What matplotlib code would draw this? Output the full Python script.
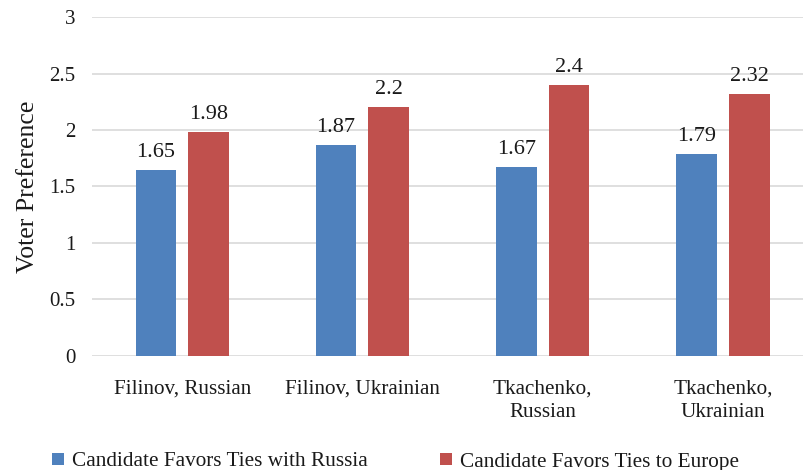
import matplotlib
matplotlib.use("Agg")
import matplotlib.pyplot as plt
import numpy as np

categories = ["Filinov, Russian", "Filinov, Ukrainian", "Tkachenko,\nRussian", "Tkachenko,\nUkrainian"]
russia = [1.65, 1.87, 1.67, 1.79]
europe = [1.98, 2.2, 2.4, 2.32]
series_names = ["Candidate Favors Ties with Russia", "Candidate Favors Ties to Europe"]
yticks = [0, 0.5, 1, 1.5, 2, 2.5, 3]
ytick_labels = ["0", "0.5", "1", "1.5", "2", "2.5", "3"]

plt.rcParams['font.family'] = ['Liberation Serif', 'DejaVu Serif']

fig = plt.figure(figsize=(8.04, 4.70), dpi=100)
ax = fig.add_axes([0.1144, 0.2426, 0.897, 0.7212])

x = np.arange(len(categories))
w = 0.225
off = 0.146
b1 = ax.bar(x - off, russia, w, color="#4F81BD", label=series_names[0], zorder=3)
b2 = ax.bar(x + off, europe, w, color="#C0504D", label=series_names[1], zorder=3)

for rect, v in zip(b1, russia):
    ax.text(rect.get_x() + rect.get_width() / 2, v + 0.07, f"{v:g}", ha="center", va="bottom", fontsize=16, color="#1a1a1a")
for rect, v in zip(b2, europe):
    ax.text(rect.get_x() + rect.get_width() / 2, v + 0.07, f"{v:g}", ha="center", va="bottom", fontsize=16, color="#1a1a1a")

ax.set_xlim(-0.5, 3.5)
ax.set_ylim(0, 3)
ax.set_yticks(yticks)
ax.set_yticklabels(ytick_labels, fontsize=15, color="#1a1a1a")
ax.set_xticks(x)
ax.set_xticklabels(categories, fontsize=15.2, color="#1a1a1a", linespacing=1.35)
ax.tick_params(axis='both', length=0)
ax.tick_params(axis='y', pad=12)
ax.tick_params(axis='x', pad=17)
ax.yaxis.grid(True, color="#d9d9d9", linewidth=1.2, zorder=0)
for s in ax.spines.values():
    s.set_visible(False)
ax.set_ylabel("Voter Preference", fontsize=18.5, color="#1a1a1a", labelpad=7)

handles = [b1, b2]
fig.legend(handles, series_names, loc="center left", bbox_to_anchor=(52 / 804, 8 / 470), ncol=2,
           frameon=False, fontsize=15.3, handlelength=0.55, handleheight=0.55, columnspacing=3.4,
           handletextpad=0.4, borderpad=0, borderaxespad=0, labelcolor="#1a1a1a")

fig.savefig("out.png", dpi=100)
